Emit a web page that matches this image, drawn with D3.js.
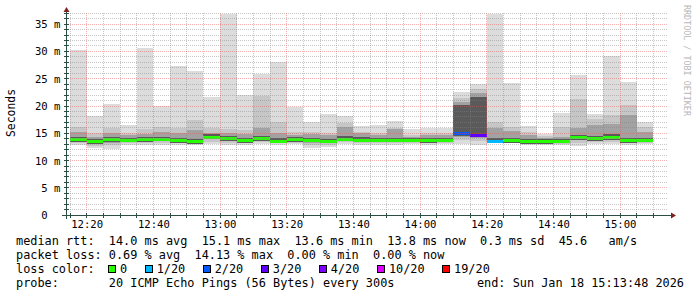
<!DOCTYPE html>
<html>
<head>
<meta charset="utf-8">
<script src="https://cdn.jsdelivr.net/npm/d3@7/dist/d3.min.js"></script>
<style>
body { margin: 0; background: #fff; }
text { font-family: "DejaVu Sans Mono", monospace; white-space: pre; }
</style>
</head>
<body>
<script>
// 5 minute steps (start of each step)
var steps = ["12:15","12:20","12:25","12:30","12:35","12:40","12:45","12:50","12:55","13:00",
             "13:05","13:10","13:15","13:20","13:25","13:30","13:35","13:40","13:45","13:50",
             "13:55","14:00","14:05","14:10","14:15","14:20","14:25","14:30","14:35","14:40",
             "14:45","14:50","14:55","15:00","15:05"];
// smoke levels in ms
var maxv  = [30.2,18.1,20.3,16.6,30.6,20.0,27.3,26.4,21.7,36.8,22.1,25.9,28.0,19.8,17.1,18.5,18.1,16.3,16.5,17.3,
             15.7,15.9,15.9,22.6,24.0,36.8,24.2,16.4,14.8,18.8,25.6,18.6,29.2,24.4,17.0];
var hiv   = [16.2,15.0,16.0,15.0,15.8,16.2,15.9,17.4,16.0,15.8,15.6,21.8,17.1,15.3,15.3,15.0,16.8,15.3,15.0,15.9,
             14.7,15.0,15.0,21.4,23.2,17.0,16.2,15.3,14.5,16.2,21.2,17.7,18.3,20.1,16.2];
var midv  = [15.3,14.3,15.1,14.7,14.8,15.3,15.0,15.6,15.1,15.0,14.8,16.0,15.0,14.7,14.8,14.6,16.2,15.0,14.6,15.7,
             14.4,14.6,14.6,20.8,22.4,15.9,15.4,14.6,14.1,14.3,15.9,16.5,16.7,18.4,15.3];
var darkv = [14.3,13.9,14.3,14.2,14.3,14.4,14.1,13.9,14.8,14.5,14.1,14.5,14.1,14.3,14.2,14.0,14.5,14.3,14.2,14.2,
             14.2,14.1,14.2,20.1,21.7,14.1,14.1,13.9,13.9,14.0,14.7,14.5,14.8,14.2,14.2];
var minv  = [12.9,12.3,12.2,12.9,12.9,12.8,12.95,12.8,13.0,12.9,12.9,13.0,12.9,13.0,12.3,12.5,13.0,12.8,12.9,12.9,
             13.0,12.9,13.0,13.0,12.9,13.2,13.2,12.8,12.9,12.8,12.7,13.0,13.0,12.9,13.0];
var medv  = [13.9,13.5,13.9,13.8,13.9,13.95,13.7,13.5,14.4,14.05,13.7,14.05,13.65,13.9,13.85,13.6,14.0,13.85,13.8,13.8,
             13.8,13.75,13.8,15.0,14.7,13.65,13.7,13.5,13.55,13.6,14.3,14.05,14.3,13.75,13.8];
var loss  = [0,0,0,0,0,0,0,0,0,0,0,0,0,0,0,0,0,0,0,0,0,0,0,2,3,1,0,0,0,0,0,0,0,0,0];

var lossLabels = ["0","1/20","2/20","3/20","4/20","10/20","19/20"];
var lossSteps  = [0,1,2,3,4,10,19];
var lossColors = ["#26ff00","#00b8ff","#0059ff","#5e00ff","#7e00ff","#dd00ff","#ff0000"];

var legend1 = "median rtt:  14.0 ms avg  15.1 ms max  13.6 ms min  13.8 ms now  0.3 ms sd  45.6   am/s";
var legend2 = "packet loss: 0.69 % avg  14.13 % max  0.00 % min  0.00 % now";
var probe = "probe:       20 ICMP Echo Pings (56 Bytes) every 300s";
var endText = "end: Sun Jan 18 15:13:48 2026";

var width = 697, height = 297;
var parse = d3.timeParse("%Y-%m-%d %H:%M:%S");
function t(s) { return parse("2026-01-18 " + (s.length == 5 ? s + ":00" : s)); }

var x = d3.scaleTime().domain([t("12:13:48"), t("15:13:48")]).range([66, 666]);
var y = d3.scaleLinear().domain([0, 37]).range([215.2, 13.2]);

function lossColor(n) {
        var c = lossColors[0];
        lossSteps.forEach(function (s, i) { if (n >= s) c = lossColors[i]; });
        return c;
}

var svg = d3.select("body").append("svg")
        .attr("width", width)
        .attr("height", height);

svg.append("rect").attr("width", width).attr("height", height).attr("fill", "#fff");

// smoke
var bar = svg.append("g").selectAll("g")
        .data(steps)
        .enter()
        .append("g")
        .attr("shape-rendering", "crispEdges");

function band(sel, lo, hi, color) {
        sel.append("rect")
                .attr("x", function (d) { return Math.round(x(t(d))); })
                .attr("width", function (d) { return Math.round(x(d3.timeMinute.offset(t(d), 5))) - Math.round(x(t(d))); })
                .attr("y", function (d, i) { return Math.round(y(hi(i))); })
                .attr("height", function (d, i) { return Math.max(1, Math.round(y(lo(i))) - Math.round(y(hi(i)))); })
                .attr("fill", color);
}
band(bar, function (i) { return minv[i]; }, function (i) { return maxv[i]; }, "#dcdcdc");
band(bar, function (i) { return minv[i] + (medv[i] - minv[i]) * 0.35; }, function (i) { return hiv[i]; }, "#c6c6c6");
band(bar, function (i) { return minv[i] + (medv[i] - minv[i]) * 0.65; }, function (i) { return midv[i]; }, "#a2a2a2");
band(bar, function (i) { return medv[i] - 0.45; }, function (i) { return darkv[i]; }, "#5a5a5a");
band(bar, function (i) { return medv[i] - 0.25; }, function (i) { return medv[i]; }, "#333");

// median
bar.append("rect")
        .attr("x", function (d) { return Math.round(x(t(d))); })
        .attr("width", function (d) { return Math.round(x(d3.timeMinute.offset(t(d), 5))) - Math.round(x(t(d))); })
        .attr("y", function (d, i) { return Math.round(y(medv[i])) - 1; })
        .attr("height", 3)
        .attr("fill", function (d, i) { return lossColor(loss[i]); });

// grid (drawn over the smoke, rrdtool style)
var grid = svg.append("g").attr("shape-rendering", "crispEdges").attr("stroke-dasharray", "1,1");
var minorY = y.ticks(37).filter(function (v) { return v % 5 != 0; });
var majorY = y.ticks(37).filter(function (v) { return v % 5 == 0 && v > 0; });
var minorX = x.ticks(d3.timeMinute.every(5)).filter(function (d) { return d.getMinutes() % 20 != 0; });
var majorX = x.ticks(d3.timeMinute.every(20));

grid.selectAll(".hmin").data(minorY).enter().append("line")
        .attr("x1", 66).attr("x2", 667)
        .attr("y1", function (v) { return Math.floor(y(v)) + 0.5; })
        .attr("y2", function (v) { return Math.floor(y(v)) + 0.5; })
        .attr("stroke", "rgba(130,130,130,0.45)");
grid.selectAll(".vmin").data(minorX).enter().append("line")
        .attr("y1", 13).attr("y2", 215)
        .attr("x1", function (d) { return Math.floor(x(d)) + 0.5; })
        .attr("x2", function (d) { return Math.floor(x(d)) + 0.5; })
        .attr("stroke", "rgba(130,130,130,0.45)");
grid.selectAll(".hmaj").data(majorY).enter().append("line")
        .attr("x1", 66).attr("x2", 667)
        .attr("y1", function (v) { return Math.floor(y(v)) + 0.5; })
        .attr("y2", function (v) { return Math.floor(y(v)) + 0.5; })
        .attr("stroke", "rgba(235,80,80,0.45)");
grid.selectAll(".vmaj").data(majorX).enter().append("line")
        .attr("y1", 13).attr("y2", 215)
        .attr("x1", function (d) { return Math.floor(x(d)) + 0.5; })
        .attr("x2", function (d) { return Math.floor(x(d)) + 0.5; })
        .attr("stroke", "rgba(235,80,80,0.45)");

// axes
var ax = svg.append("g").attr("shape-rendering", "crispEdges").attr("stroke", "#2c4d43");
ax.append("line").attr("x1", 62).attr("x2", 671).attr("y1", 215.5).attr("y2", 215.5);
ax.append("line").attr("x1", 66.5).attr("x2", 66.5).attr("y1", 219).attr("y2", 11);
ax.selectAll(".tx").data(minorX.concat(majorX)).enter().append("line")
        .attr("x1", function (d) { return Math.floor(x(d)) + 0.5; })
        .attr("x2", function (d) { return Math.floor(x(d)) + 0.5; })
        .attr("y1", 213).attr("y2", 218);
ax.selectAll(".ty").data(minorY.concat(majorY)).enter().append("line")
        .attr("y1", function (v) { return Math.floor(y(v)) + 0.5; })
        .attr("y2", function (v) { return Math.floor(y(v)) + 0.5; })
        .attr("x1", 64).attr("x2", 69);
svg.append("path").attr("d", "M671,212.5L676,215.5L671,218.5Z").attr("fill", "#7f1f1f");
svg.append("path").attr("d", "M63.5,12L66.5,7L69.5,12Z").attr("fill", "#7f1f1f");

// tick labels
svg.append("g").selectAll("text").data(y.ticks(8)).enter().append("text")
        .attr("x", 60.5).attr("y", function (v) { return y(v) + 4; })
        .attr("text-anchor", "end")
        .attr("font-size", "10.6px")
        .text(function (v) { return v == 0 ? "0  " : v + " m"; });
svg.append("g").selectAll("text").data(majorX).enter().append("text")
        .attr("x", function (d) { return x(d) + 0.5; }).attr("y", 227.5)
        .attr("text-anchor", "middle")
        .attr("font-size", "10.6px")
        .text(d3.timeFormat("%H:%M"));

svg.append("text")
        .attr("transform", "translate(15,113) rotate(-90)")
        .attr("text-anchor", "middle")
        .attr("font-size", "11.4px")
        .text("Seconds");
svg.append("text")
        .attr("transform", "translate(684,5) rotate(90)")
        .attr("font-size", "8.4px")
        .attr("fill", "#b8b8b8")
        .text("RRDTOOL / TOBI OETIKER");

// legend
var lg = svg.append("g").attr("font-size", "11.86px");
lg.append("text").attr("x", 16).attr("y", 245).text(legend1);
lg.append("text").attr("x", 16).attr("y", 259).text(legend2);
lg.append("text").attr("x", 16).attr("y", 273).text("loss color:");
lg.append("text").attr("x", 16).attr("y", 287).text(probe);
lg.append("text").attr("x", 684).attr("y", 287).attr("text-anchor", "end").text(endText);

var cw = 7.14, bx = 108;
lossLabels.forEach(function (l, i) {
        lg.append("rect").attr("x", bx + 0.5).attr("y", 265.5).attr("width", 7).attr("height", 7)
                .attr("fill", lossColors[i]).attr("stroke", "#000").attr("shape-rendering", "crispEdges");
        lg.append("text").attr("x", bx + 12).attr("y", 273).text(l);
        bx += l.length * cw + 29.5;
});
</script>
</body>
</html>
